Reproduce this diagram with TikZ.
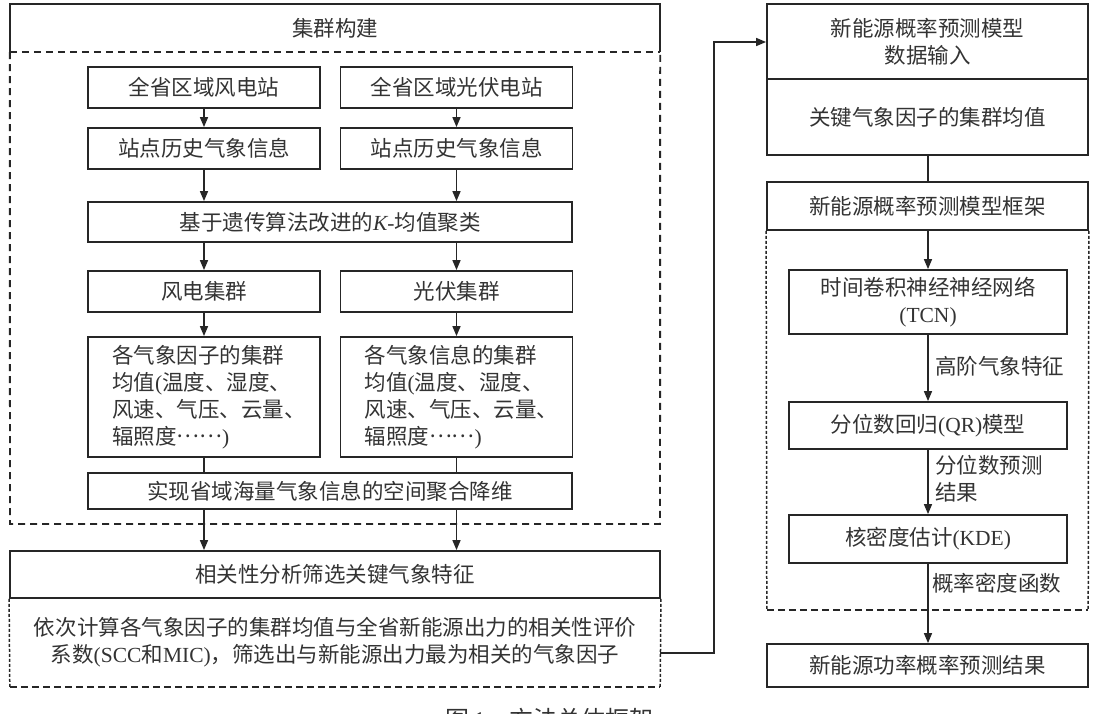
\documentclass[tikz,border=0pt]{standalone}
\usepackage{fontspec}
\setmainfont{Liberation Serif}
\newfontfamily\cjk{Noto Sans CJK SC}
\newfontfamily\lat{Liberation Serif}
\usetikzlibrary{arrows.meta}
\newcommand\La[1]{{\lat #1}}
\newcommand\mdots{\raisebox{0.32em}{……}}
\tikzset{
  txt/.style={inner sep=0pt, font=\cjk\fontsize{21.5}{27}\selectfont, text=black!80},
  box/.style={txt, draw=black!85, line width=1.8pt, align=center},
  arr/.style={line width=1.5pt, draw=black!85, -{Triangle[length=10pt,width=8pt]}},
  conn/.style={line width=1.5pt, draw=black!85},
  dsh/.style={line width=1.9pt, draw=black!85, dash pattern=on 7pt off 5pt},
  dshthin/.style={line width=1.5pt, draw=black!85, dash pattern=on 7pt off 4pt},
  ddot/.style={line width=1.5pt, draw=black!85, dash pattern=on 3pt off 2pt},
}
\begin{document}
\begin{tikzpicture}[x=1pt,y=-1pt]
\useasboundingbox (0,0) rectangle (1095,714);

% ---------- left part: cluster construction ----------
\node[txt, minimum width=650pt, minimum height=48pt] (T) at (335,28) {集群构建};
\draw[conn, line width=1.8pt] (T.south west) -- (T.north west) -- (T.north east) -- (T.south east);
\draw[dsh] (T.south west) -- (T.south east);
\coordinate (Cbl) at (10,524);
\coordinate (Cbr) at (660,524);
\draw[dsh] (T.south west) -- (Cbl) -- (Cbr) -- (T.south east);

\node[box, minimum width=232pt, minimum height=41pt] (a1) at (204,87.5) {全省区域风电站};
\node[box, minimum width=232pt, minimum height=41pt] (b1) at (456.5,87.5) {全省区域光伏电站};
\node[box, minimum width=232pt, minimum height=41pt] (a2) at (204,148.5) {站点历史气象信息};
\node[box, minimum width=232pt, minimum height=41pt] (b2) at (456.5,148.5) {站点历史气象信息};
\node[box, minimum width=484pt, minimum height=40pt] (K) at (330,222) {基于遗传算法改进的{\lat\itshape K}\La{-}均值聚类};
\node[box, minimum width=232pt, minimum height=41pt] (a3) at (204,291.5) {风电集群};
\node[box, minimum width=232pt, minimum height=41pt] (b3) at (456.5,291.5) {光伏集群};
\node[box, minimum width=232pt, minimum height=120pt, align=left, text width=232pt] (a4) at (204,397)
  {\hspace*{24pt}各气象因子的集群\\\hspace*{24pt}均值\La{(}温度、湿度、\\\hspace*{24pt}风速、气压、云量、\\\hspace*{24pt}辐照度\mdots\La{)}};
\node[box, minimum width=232pt, minimum height=120pt, align=left, text width=232pt] (b4) at (456.5,397)
  {\hspace*{24pt}各气象信息的集群\\\hspace*{24pt}均值\La{(}温度、湿度、\\\hspace*{24pt}风速、气压、云量、\\\hspace*{24pt}辐照度\mdots\La{)}};
\node[box, minimum width=484pt, minimum height=36pt] (R) at (330,491) {实现省域海量气象信息的空间聚合降维};

\draw[arr] (a1) -- (a2);
\draw[arr] (b1) -- (b2);
\draw[arr] (a2.south) -- (a2.south |- K.north);
\draw[arr] (b2.south) -- (b2.south |- K.north);
\draw[arr] (a3.north |- K.south) -- (a3.north);
\draw[arr] (b3.north |- K.south) -- (b3.north);
\draw[arr] (a3) -- (a4);
\draw[arr] (b3) -- (b4);
\draw[conn] (a4.south) -- (a4.south |- R.north);
\draw[conn] (b4.south) -- (b4.south |- R.north);

% ---------- correlation analysis ----------
\node[box, minimum width=650pt, minimum height=47pt] (S) at (335,574.5) {相关性分析筛选关键气象特征};
\node[txt, minimum width=650pt, minimum height=89pt, align=center] (D) at (335,642.5)
  {依次计算各气象因子的集群均值与全省新能源出力的相关性评价\\系数\La{(SCC}和\La{MIC)}，筛选出与新能源出力最为相关的气象因子};
\draw[ddot] (S.south west) -- (D.south west);
\draw[ddot] (S.south east) -- (D.south east);
\draw[dshthin] (D.south west) -- (D.south east);

\draw[arr] (a4.south |- R.south) -- (a4.south |- S.north);
\draw[arr] (b4.south |- R.south) -- (b4.south |- S.north);

% ---------- right part ----------
\node[box, minimum width=321pt, minimum height=75pt] (I1) at (927.5,41.5) {新能源概率预测模型\\数据输入};
\node[box, minimum width=321pt, minimum height=76pt] (I2) at (927.5,117) {关键气象因子的集群均值};
\node[box, minimum width=321pt, minimum height=48pt] (F) at (927.5,206) {新能源概率预测模型框架};
\node[inner sep=0pt, minimum width=321pt, minimum height=380pt] (G) at (927.5,420) {};
\draw[ddot] (F.south west) -- (G.south west);
\draw[ddot] (F.south east) -- (G.south east);
\draw[dshthin] (G.south west) -- (G.south east);

\node[box, minimum width=278pt, minimum height=64pt] (TCN) at (928,302) {时间卷积神经神经网络\\\La{(TCN)}};
\node[box, minimum width=278pt, minimum height=47pt] (QR) at (928,425.5) {分位数回归\La{(QR)}模型};
\node[box, minimum width=278pt, minimum height=48pt] (KDE) at (928,539) {核密度估计\La{(KDE)}};
\node[box, minimum width=321pt, minimum height=43pt] (Fin) at (927.5,665.5) {新能源功率概率预测结果};

\draw[conn] (I2.south -| TCN.north) -- (F.north -| TCN.north);
\draw[arr] (F.south -| TCN.north) -- (TCN.north);
\draw[arr] (TCN) -- (QR);
\draw[arr] (QR) -- (KDE);
\draw[arr] (KDE.south) -- (KDE.south |- Fin.north);

\node[txt, anchor=west] (l1) at (935,366) {高阶气象特征};
\node[txt, anchor=west, align=left] (l2) at (935,479) {分位数预测\\结果};
\node[txt, anchor=west] (l3) at (932,583) {概率密度函数};

% ---------- connector ----------
\coordinate (p1) at (714,653);
\coordinate (q1) at (714,42);
\draw[arr] (p1 -| D.east) -- (p1) -- (q1) -- (q1 -| I1.west);

% ---------- caption (cut off by page edge, as in the reference) ----------
\node[txt, font=\cjk\fontsize{24}{28}\selectfont, anchor=base] (cap) at (549.5,728) {图\,\La{1}\hspace{1em}方法总体框架};
\end{tikzpicture}
\end{document}
